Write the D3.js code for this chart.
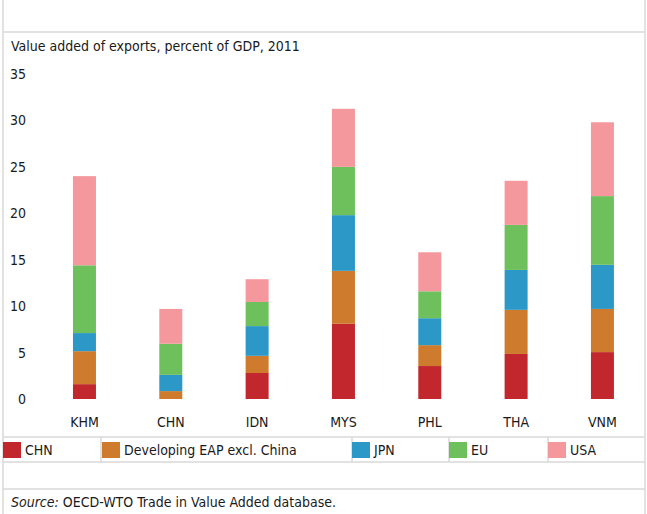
<!DOCTYPE html>
<html>
<head>
<meta charset="utf-8">
<script src="https://cdn.jsdelivr.net/npm/d3@7"></script>
<style>
  html, body { margin: 0; padding: 0; background: #fff; }
  svg { display: block; }
  text { font-family: "Liberation Sans Narrow", "DejaVu Sans Condensed", "Liberation Sans", sans-serif; fill: #1a1a1a; }
</style>
</head>
<body>
<svg id="chart" width="647" height="514"></svg>
<script>
// Value added of exports by destination, percent of GDP, 2011
const countries = ["KHM", "CHN", "IDN", "MYS", "PHL", "THA", "VNM"];
const seriesNames = ["CHN", "Developing EAP excl. China", "JPN", "EU", "USA"];
const chnValues = [1.6, 0.0, 2.8, 8.1, 3.55, 4.85, 5.05];
const eapValues = [3.55, 0.85, 1.85, 5.7, 2.25, 4.75, 4.65];
const jpnValues = [1.95, 1.75, 3.2, 6.0, 2.9, 4.3, 4.75];
const euValues  = [7.3, 3.35, 2.6, 5.2, 2.9, 4.85, 7.4];
const usaValues = [9.6, 3.75, 2.45, 6.25, 4.2, 4.75, 7.95];
const yTicks = [0, 5, 10, 15, 20, 25, 30, 35];
const colors = ["#C1272D", "#CE7B2D", "#2B98C8", "#6EC05D", "#F5989D"];

const seriesValues = [chnValues, eapValues, jpnValues, euValues, usaValues];
const rows = countries.map((c, i) => {
  const r = { country: c };
  seriesNames.forEach((s, k) => { r[s] = seriesValues[k][i]; });
  return r;
});

const svg = d3.select("#chart");
const frame = "#d9d9d9";

// Frame lines around the chart panel
const hLines = [32, 437, 462, 489];
svg.selectAll("line.h").data(hLines).join("line")
  .attr("x1", 3).attr("x2", 645)
  .attr("y1", d => d).attr("y2", d => d)
  .attr("stroke", frame).attr("stroke-width", 1.5);
svg.append("line").attr("x1", 3).attr("x2", 3).attr("y1", 0).attr("y2", 514)
  .attr("stroke", frame).attr("stroke-width", 1.5);
svg.append("line").attr("x1", 645).attr("x2", 645).attr("y1", 0).attr("y2", 514)
  .attr("stroke", frame).attr("stroke-width", 1.5);

// Title
svg.append("text").attr("x", 11).attr("y", 51)
  .attr("font-size", 14).text("Value added of exports, percent of GDP, 2011");

// Scales
const x = d3.scaleBand().domain(countries).range([41.3, 645.6])
  .paddingInner(0.7336).paddingOuter(0.3668);
const y = d3.scaleLinear().domain([0, 35]).range([399, 74]);

// Y axis (labels only)
const yAxis = svg.append("g").attr("transform", "translate(26,0)")
  .call(d3.axisLeft(y).tickValues(yTicks).tickSize(0).tickPadding(0));
yAxis.select(".domain").remove();
yAxis.selectAll("text").attr("font-size", 14).attr("font-family", null).attr("fill", "#1a1a1a");

// X axis (labels only)
const xAxis = svg.append("g").attr("transform", "translate(0,417)")
  .call(d3.axisBottom(x).tickSize(0).tickPadding(0));
xAxis.select(".domain").remove();
xAxis.selectAll("text").attr("font-size", 14).attr("font-family", null).attr("fill", "#1a1a1a");

// Stacked bars
const stack = d3.stack().keys(seriesNames);
const layers = stack(rows);
svg.append("g").selectAll("g").data(layers).join("g")
  .attr("fill", (d, i) => colors[i])
  .selectAll("rect").data(d => d).join("rect")
  .attr("x", d => x(d.data.country))
  .attr("width", x.bandwidth())
  .attr("y", d => y(d[1]))
  .attr("height", d => y(d[0]) - y(d[1]));

// Legend
const legendX = [3, 102, 352, 449, 548];
const legendSep = [101, 352, 449, 548];
svg.selectAll("line.sep").data(legendSep).join("line")
  .attr("x1", d => d).attr("x2", d => d).attr("y1", 437).attr("y2", 462)
  .attr("stroke", frame).attr("stroke-width", 1.5);
const lg = svg.append("g").selectAll("g").data(seriesNames).join("g")
  .attr("transform", (d, i) => `translate(${legendX[i]},442)`);
lg.append("rect").attr("width", 18).attr("height", 16).attr("fill", (d, i) => colors[i]);
lg.append("text").attr("x", 22).attr("y", 13).attr("font-size", 14).text(d => d);

// Source note
const src = svg.append("text").attr("x", 11).attr("y", 507).attr("font-size", 14);
src.append("tspan").attr("font-style", "italic").text("Source:");
src.append("tspan").text(" OECD-WTO Trade in Value Added database.");
</script>
</body>
</html>
